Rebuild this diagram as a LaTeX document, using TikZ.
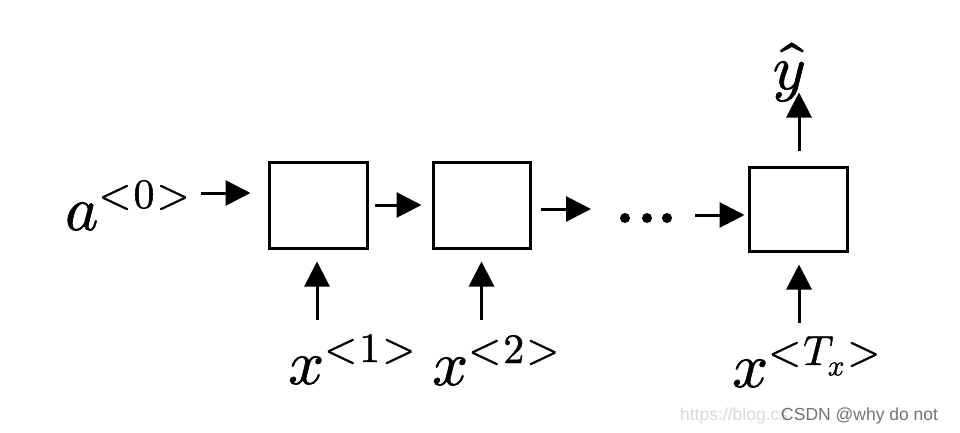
\documentclass[tikz,border=0pt]{standalone}
\usepackage{fontspec}
\usepackage{unicode-math}
\setmathfont{Latin Modern Math}[FakeBold=1]
\newfontfamily\wmfont{Liberation Sans}
\usetikzlibrary{arrows.meta}
\newcommand\mysup[1]{\raisebox{22pt}{\fontsize{42}{44}\selectfont$#1$}}
\begin{document}
\begin{tikzpicture}[x=1pt,y=-1pt,
  box/.style={draw, line width=3pt, minimum width=98pt, minimum height=86pt, inner sep=0pt},
  arr/.style={line width=3pt, -{Triangle[length=25pt,width=25pt]}},
  lbl/.style={anchor=base west, inner sep=0pt, font=\fontsize{63}{70}\selectfont},
  dot/.style={circle, fill, inner sep=0pt, minimum size=10pt},
  wm/.style={anchor=base west, inner sep=0pt, font=\wmfont\fontsize{17.5}{18}\selectfont},
]
\fill[white] (0,0) rectangle (960,432);
\useasboundingbox (0,0) rectangle (960,432);

% boxes
\node[box] (b1) at (318,205) {};
\node[box, minimum width=97pt] (b2) at (481.5,205) {};
\node[box, minimum height=84pt] (b3) at (798,209) {};

% dots
\node[dot] (d1) at (625,218) {};
\node[dot] (d2) at (647,218) {};
\node[dot] (d3) at (667,218) {};

% labels
\node[lbl] (a0) at (65,230) {$a$\mysup{{<}\mkern1mu0\mkern1mu{>}}};
\node[lbl] (x1) at (288,384) {$x$\mysup{{<}\mkern1mu1\mkern1mu{>}}};
\node[lbl] (x2) at (432,385) {$x$\mysup{{<}\mkern1mu2\mkern1mu{>}}};
\node[lbl] (xT) at (732,387) {$x$\mysup{{<}\mkern1mu T_{x}\mkern1mu{>}}};
\node[anchor=base, inner sep=0pt, font=\fontsize{63}{70}\selectfont] (yh) at (789,89) {$\hat{y}$};

% watermark
\node[wm, text=black!15] (url) at (680,420) {https://blog.cs};
\node[wm, text=black!55] (csdn) at (781,420) {CSDN @why do not};

% connectors
\draw[arr] ([shift={(11,-37)}]a0.base east) -- ([shift={(-17,-12)}]b1.west);
\draw[arr] ([xshift=6pt]b1.east) -- ([xshift=-10pt]b2.west);
\draw[arr] ([shift={(9,4)}]b2.east) -- ([shift={(-34,-9)}]d1.center);
\draw[arr] ([shift={(28,-3)}]d3.center) -- ([shift={(-3,6)}]b3.west);
\draw[arr] ([shift={(-1,70)}]b1.south) -- ([shift={(-1,12)}]b1.south);
\draw[arr] ([shift={(0,70)}]b2.south) -- ([shift={(0,12)}]b2.south);
\draw[arr] ([shift={(1,70)}]b3.south) -- ([shift={(1,12)}]b3.south);
\draw[arr] ([shift={(1,-15)}]b3.north) -- ([shift={(1,-73)}]b3.north);
\end{tikzpicture}
\end{document}
